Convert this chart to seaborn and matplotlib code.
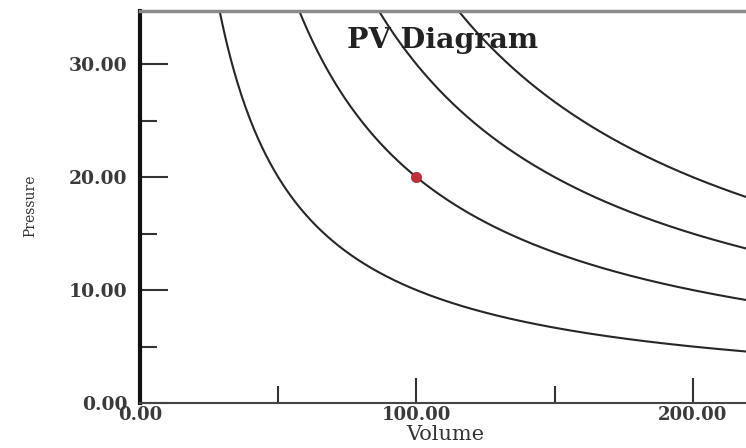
import numpy as np
import pandas as pd
import matplotlib
matplotlib.use("Agg")
import matplotlib.pyplot as plt
import seaborn as sns
from matplotlib.ticker import MultipleLocator, FormatStrFormatter

# --- data ---
isotherm_k = [1000, 2000, 3000, 4000]      # P*V constants of the four isotherms
point_volume = [100.0]
point_pressure = [20.0]
title_text = "PV Diagram"
x_label = "Volume"
y_label = "Pressure"

# build table of isotherm curves P = k / V
rows = []
for k in isotherm_k:
    v = np.linspace(k / 36.0, 225, 400)
    rows.append(pd.DataFrame({"Volume": v, "Pressure": k / v, "k": k}))
curves = pd.concat(rows, ignore_index=True)
pts = pd.DataFrame({"Volume": point_volume, "Pressure": point_pressure})

sns.set_style("white")
plt.rcParams["font.family"] = ["DejaVu Serif", "DejaVu Sans"]

fig = plt.figure(figsize=(7.46, 4.48), dpi=100)
ax = fig.add_axes([140 / 746, 45 / 448, 606 / 746, 392 / 448])

sns.lineplot(data=curves, x="Volume", y="Pressure", hue="k",
             palette=["#262626"] * len(isotherm_k), legend=False,
             linewidth=1.5, ax=ax, sort=False, estimator=None)
sns.scatterplot(data=pts, x="Volume", y="Pressure", color="#c0303a",
                s=55, edgecolor="#a02030", linewidth=0.5, ax=ax, zorder=5)

ax.set_xlim(0, 219.3)
ax.set_ylim(0, 34.7)

ax.xaxis.set_major_locator(MultipleLocator(100))
ax.xaxis.set_minor_locator(MultipleLocator(50))
ax.yaxis.set_major_locator(MultipleLocator(10))
ax.yaxis.set_minor_locator(MultipleLocator(5))
ax.xaxis.set_major_formatter(FormatStrFormatter("%.2f"))
ax.yaxis.set_major_formatter(FormatStrFormatter("%.2f"))

ax.tick_params(axis="y", which="major", direction="in", length=20, width=1.5,
               color="#333333", pad=9, labelsize=13.5, labelcolor="#3a3a3a",
               left=True)
ax.tick_params(axis="y", which="minor", direction="in", length=12, width=1.5,
               color="#333333", left=True)
ax.tick_params(axis="x", which="major", direction="in", length=18, width=1.5,
               color="#333333", pad=2.5, labelsize=13, labelcolor="#3a3a3a",
               bottom=True)
ax.tick_params(axis="x", which="minor", direction="in", length=12, width=1.5,
               color="#333333", bottom=True)
for lab in ax.get_xticklabels() + ax.get_yticklabels():
    lab.set_fontweight("bold")

ax.spines["left"].set_color("#111111")
ax.spines["left"].set_linewidth(3)
ax.spines["bottom"].set_color("#444444")
ax.spines["bottom"].set_linewidth(1.5)
ax.spines["top"].set_color("#8a8a8a")
ax.spines["top"].set_linewidth(2.5)
ax.spines["right"].set_visible(False)

ax.set_xlabel(x_label, fontsize=15, color="#333333", va="top")
ax.xaxis.set_label_coords(0.503, -0.056)
ax.set_ylabel(y_label, fontsize=10, color="#333333", va="center")
ax.yaxis.set_label_coords(-0.1815, 0.5026)

ax.text(109.4, 32.1, title_text, ha="center", va="center", fontsize=20.5,
        fontweight="bold", color="#222222")

fig.savefig("out.png", dpi=100)
